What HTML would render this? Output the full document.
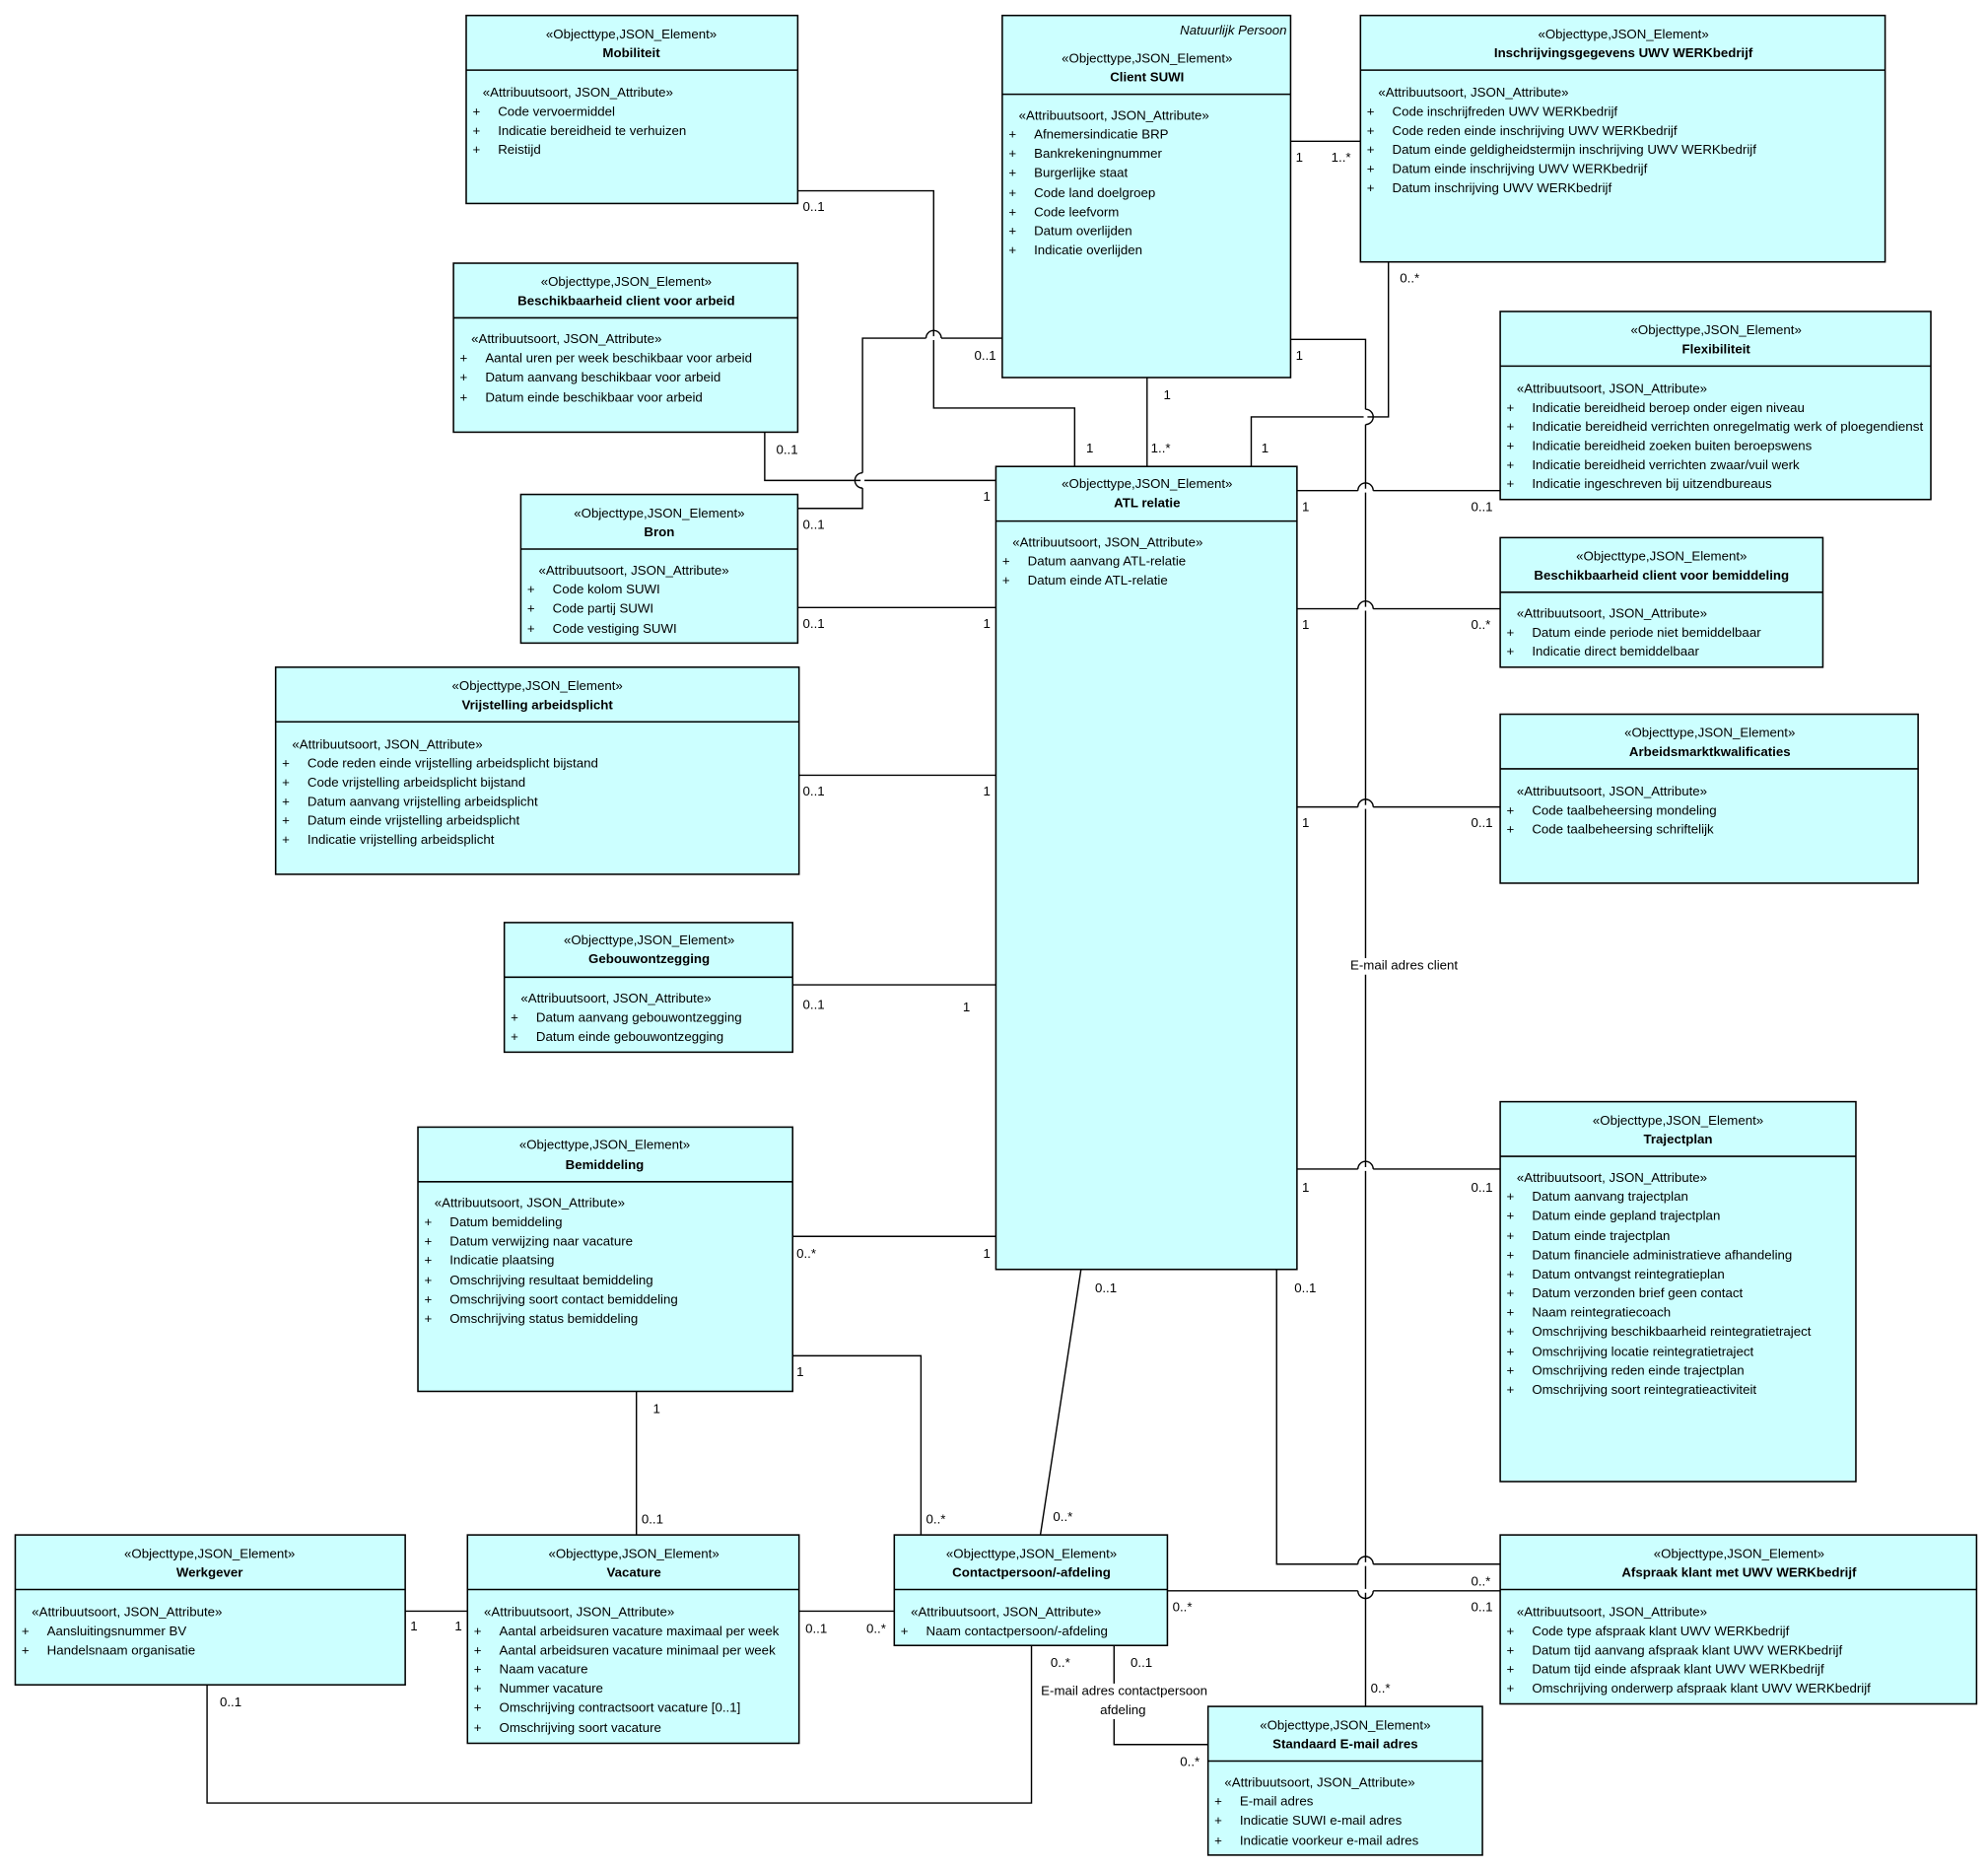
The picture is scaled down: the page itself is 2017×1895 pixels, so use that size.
<!DOCTYPE html>
<html><head><meta charset="utf-8"><style>
html,body{margin:0;padding:0;background:#fff}
svg{display:block}
text{font-family:"Liberation Sans",sans-serif;font-size:10.3px;fill:#000}
.b{font-weight:bold}
.c{text-anchor:middle}
rect{fill:#ccffff;stroke:#000;stroke-width:1.2}
.sep{stroke:#000;stroke-width:1.2}
.ln{fill:none;stroke:#000;stroke-width:1.1}
.jp{fill:none;stroke:#000;stroke-width:1.1}
.wh{stroke:#fff;stroke-width:3}
</style></head><body>
<svg width="2017" height="1895" viewBox="0 0 1565 1470" xmlns="http://www.w3.org/2000/svg">
<!-- connectors -->
<g class="ln">
<polyline points="628,150 735,150 735,321 846,321 846,367"/>
<line x1="903" y1="297" x2="903" y2="367"/>
<line x1="1016" y1="111" x2="1071" y2="111"/>
<polyline points="1093,206 1093,328 985,328 985,367"/>
<polyline points="602,340 602,378 784,378"/>
<polyline points="628,400 679,400 679,266 789,266"/>
<polyline points="1016,267 1075,267 1075,1343"/>
<line x1="628" y1="478" x2="784" y2="478"/>
<line x1="629" y1="610" x2="784" y2="610"/>
<line x1="624" y1="775" x2="784" y2="775"/>
<line x1="624" y1="973" x2="784" y2="973"/>
<line x1="1021" y1="386" x2="1181" y2="386"/>
<line x1="1021" y1="479" x2="1181" y2="479"/>
<line x1="1021" y1="635" x2="1181" y2="635"/>
<line x1="1021" y1="920" x2="1181" y2="920"/>
<polyline points="1005,999 1005,1231 1181,1231"/>
<line x1="851" y1="999" x2="819" y2="1208"/>
<line x1="501" y1="1095" x2="501" y2="1208"/>
<polyline points="624,1067 725,1067 725,1208"/>
<line x1="319" y1="1268" x2="368" y2="1268"/>
<line x1="629" y1="1268" x2="704" y2="1268"/>
<line x1="919" y1="1252" x2="1181" y2="1252"/>
<polyline points="163,1326 163,1419 812,1419 812,1295"/>
<polyline points="877,1295 877,1373 951,1373"/>
</g>
<!-- jumps -->
<g>
<line class="wh" x1="729" y1="266" x2="741" y2="266"/><path class="jp" d="M729,266 A6,6 0 0 1 741,266"/>
<line class="wh" x1="1075" y1="322" x2="1075" y2="334"/><path class="jp" d="M1075,322 A6,6 0 0 1 1075,334"/>
<line class="wh" x1="679" y1="372" x2="679" y2="384"/><path class="jp" d="M679,372 A6,6 0 0 0 679,384"/>
<line class="wh" x1="1069" y1="386" x2="1081" y2="386"/><path class="jp" d="M1069,386 A6,6 0 0 1 1081,386"/>
<line class="wh" x1="1069" y1="479" x2="1081" y2="479"/><path class="jp" d="M1069,479 A6,6 0 0 1 1081,479"/>
<line class="wh" x1="1069" y1="635" x2="1081" y2="635"/><path class="jp" d="M1069,635 A6,6 0 0 1 1081,635"/>
<line class="wh" x1="1069" y1="920" x2="1081" y2="920"/><path class="jp" d="M1069,920 A6,6 0 0 1 1081,920"/>
<line class="wh" x1="1069" y1="1231" x2="1081" y2="1231"/><path class="jp" d="M1069,1231 A6,6 0 0 1 1081,1231"/>
<line class="wh" x1="1069" y1="1252" x2="1081" y2="1252"/><path class="jp" d="M1069,1252 A6,6 0 0 0 1081,1252"/>
</g>
<!-- multiplicities -->
<g>
<text x="632" y="166">0..1</text><text x="855" y="356">1</text>
<text x="916" y="314">1</text><text x="906" y="356">1..*</text>
<text x="1020" y="127">1</text><text x="1048" y="127">1..*</text>
<text x="1102" y="222">0..*</text><text x="993" y="356">1</text>
<text x="611" y="357">0..1</text><text x="774" y="394">1</text>
<text x="632" y="416">0..1</text><text x="767" y="283">0..1</text>
<text x="1020" y="283">1</text><text x="1079" y="1332">0..*</text>
<rect x="1062" y="754" width="90" height="13" style="fill:#fff;stroke:none"/>
<text x="1063" y="763">E-mail adres client</text>
<text x="632" y="494">0..1</text><text x="774" y="494">1</text>
<text x="632" y="626">0..1</text><text x="774" y="626">1</text>
<text x="632" y="794">0..1</text><text x="758" y="796">1</text>
<text x="627" y="990">0..*</text><text x="774" y="990">1</text>
<text x="1025" y="402">1</text><text x="1158" y="402">0..1</text>
<text x="1025" y="495">1</text><text x="1158" y="495">0..*</text>
<text x="1025" y="651">1</text><text x="1158" y="651">0..1</text>
<text x="1025" y="938">1</text><text x="1158" y="938">0..1</text>
<text x="1019" y="1017">0..1</text><text x="1158" y="1248">0..*</text>
<text x="862" y="1017">0..1</text><text x="829" y="1197">0..*</text>
<text x="514" y="1112">1</text><text x="505" y="1199">0..1</text>
<text x="627" y="1083">1</text><text x="729" y="1199">0..*</text>
<text x="323" y="1283">1</text><text x="358" y="1283">1</text>
<text x="634" y="1285">0..1</text><text x="682" y="1285">0..*</text>
<text x="923" y="1268">0..*</text><text x="1158" y="1268">0..1</text>
<text x="173" y="1343">0..1</text><text x="827" y="1312">0..*</text>
<text x="890" y="1312">0..1</text><text x="929" y="1390">0..*</text>
<rect x="816" y="1325" width="140" height="28" style="fill:#fff;stroke:none"/>
<text class="c" x="885" y="1334">E-mail adres contactpersoon</text>
<text class="c" x="884" y="1349">afdeling</text>
</g>

<!-- Mobiliteit -->
<rect x="367" y="12" width="261" height="148"/><line class="sep" x1="367" y1="55" x2="628" y2="55"/>
<text class="c" x="497" y="30">«Objecttype,JSON_Element»</text><text class="c b" x="497" y="45">Mobiliteit</text>
<text x="380" y="76">«Attribuutsoort, JSON_Attribute»</text>
<text x="372" y="91">+</text><text x="392" y="91">Code vervoermiddel</text>
<text x="372" y="106">+</text><text x="392" y="106">Indicatie bereidheid te verhuizen</text>
<text x="372" y="121">+</text><text x="392" y="121">Reistijd</text>

<!-- Client SUWI -->
<rect x="789" y="12" width="227" height="285"/><line class="sep" x1="789" y1="74" x2="1016" y2="74"/>
<text x="1013" y="27" style="font-style:italic;text-anchor:end">Natuurlijk Persoon</text>
<text class="c" x="903" y="49">«Objecttype,JSON_Element»</text><text class="c b" x="903" y="64">Client SUWI</text>
<text x="802" y="94">«Attribuutsoort, JSON_Attribute»</text>
<text x="794" y="109">+</text><text x="814" y="109">Afnemersindicatie BRP</text>
<text x="794" y="124">+</text><text x="814" y="124">Bankrekeningnummer</text>
<text x="794" y="139">+</text><text x="814" y="139">Burgerlijke staat</text>
<text x="794" y="155">+</text><text x="814" y="155">Code land doelgroep</text>
<text x="794" y="170">+</text><text x="814" y="170">Code leefvorm</text>
<text x="794" y="185">+</text><text x="814" y="185">Datum overlijden</text>
<text x="794" y="200">+</text><text x="814" y="200">Indicatie overlijden</text>

<!-- Inschrijvingsgegevens -->
<rect x="1071" y="12" width="413" height="194"/><line class="sep" x1="1071" y1="55" x2="1484" y2="55"/>
<text class="c" x="1278" y="30">«Objecttype,JSON_Element»</text><text class="c b" x="1278" y="45">Inschrijvingsgegevens UWV WERKbedrijf</text>
<text x="1085" y="76">«Attribuutsoort, JSON_Attribute»</text>
<text x="1076" y="91">+</text><text x="1096" y="91">Code inschrijfreden UWV WERKbedrijf</text>
<text x="1076" y="106">+</text><text x="1096" y="106">Code reden einde inschrijving UWV WERKbedrijf</text>
<text x="1076" y="121">+</text><text x="1096" y="121">Datum einde geldigheidstermijn inschrijving UWV WERKbedrijf</text>
<text x="1076" y="136">+</text><text x="1096" y="136">Datum einde inschrijving UWV WERKbedrijf</text>
<text x="1076" y="151">+</text><text x="1096" y="151">Datum inschrijving UWV WERKbedrijf</text>

<!-- Beschikbaarheid arbeid -->
<rect x="357" y="207" width="271" height="133"/><line class="sep" x1="357" y1="250" x2="628" y2="250"/>
<text class="c" x="493" y="225">«Objecttype,JSON_Element»</text><text class="c b" x="493" y="240">Beschikbaarheid client voor arbeid</text>
<text x="371" y="270">«Attribuutsoort, JSON_Attribute»</text>
<text x="362" y="285">+</text><text x="382" y="285">Aantal uren per week beschikbaar voor arbeid</text>
<text x="362" y="300">+</text><text x="382" y="300">Datum aanvang beschikbaar voor arbeid</text>
<text x="362" y="316">+</text><text x="382" y="316">Datum einde beschikbaar voor arbeid</text>

<!-- Flexibiliteit -->
<rect x="1181" y="245" width="339" height="148"/><line class="sep" x1="1181" y1="288" x2="1520" y2="288"/>
<text class="c" x="1351" y="263">«Objecttype,JSON_Element»</text><text class="c b" x="1351" y="278">Flexibiliteit</text>
<text x="1194" y="309">«Attribuutsoort, JSON_Attribute»</text>
<text x="1186" y="324">+</text><text x="1206" y="324">Indicatie bereidheid beroep onder eigen niveau</text>
<text x="1186" y="339">+</text><text x="1206" y="339" textLength="308" lengthAdjust="spacingAndGlyphs">Indicatie bereidheid verrichten onregelmatig werk of ploegendienst</text>
<text x="1186" y="354">+</text><text x="1206" y="354">Indicatie bereidheid zoeken buiten beroepswens</text>
<text x="1186" y="369">+</text><text x="1206" y="369">Indicatie bereidheid verrichten zwaar/vuil werk</text>
<text x="1186" y="384">+</text><text x="1206" y="384">Indicatie ingeschreven bij uitzendbureaus</text>

<!-- Bron -->
<rect x="410" y="389" width="218" height="117"/><line class="sep" x1="410" y1="432" x2="628" y2="432"/>
<text class="c" x="519" y="407">«Objecttype,JSON_Element»</text><text class="c b" x="519" y="422">Bron</text>
<text x="424" y="452">«Attribuutsoort, JSON_Attribute»</text>
<text x="415" y="467">+</text><text x="435" y="467">Code kolom SUWI</text>
<text x="415" y="482">+</text><text x="435" y="482">Code partij SUWI</text>
<text x="415" y="498">+</text><text x="435" y="498">Code vestiging SUWI</text>

<!-- ATL relatie -->
<rect x="784" y="367" width="237" height="632"/><line class="sep" x1="784" y1="410" x2="1021" y2="410"/>
<text class="c" x="903" y="384">«Objecttype,JSON_Element»</text><text class="c b" x="903" y="399">ATL relatie</text>
<text x="797" y="430">«Attribuutsoort, JSON_Attribute»</text>
<text x="789" y="445">+</text><text x="809" y="445">Datum aanvang ATL-relatie</text>
<text x="789" y="460">+</text><text x="809" y="460">Datum einde ATL-relatie</text>

<!-- Beschikbaarheid bemiddeling -->
<rect x="1181" y="423" width="254" height="102"/><line class="sep" x1="1181" y1="466" x2="1435" y2="466"/>
<text class="c" x="1308" y="441">«Objecttype,JSON_Element»</text><text class="c b" x="1308" y="456">Beschikbaarheid client voor bemiddeling</text>
<text x="1194" y="486">«Attribuutsoort, JSON_Attribute»</text>
<text x="1186" y="501">+</text><text x="1206" y="501">Datum einde periode niet bemiddelbaar</text>
<text x="1186" y="516">+</text><text x="1206" y="516">Indicatie direct bemiddelbaar</text>

<!-- Vrijstelling -->
<rect x="217" y="525" width="412" height="163"/><line class="sep" x1="217" y1="568" x2="629" y2="568"/>
<text class="c" x="423" y="543">«Objecttype,JSON_Element»</text><text class="c b" x="423" y="558">Vrijstelling arbeidsplicht</text>
<text x="230" y="589">«Attribuutsoort, JSON_Attribute»</text>
<text x="222" y="604">+</text><text x="242" y="604">Code reden einde vrijstelling arbeidsplicht bijstand</text>
<text x="222" y="619">+</text><text x="242" y="619">Code vrijstelling arbeidsplicht bijstand</text>
<text x="222" y="634">+</text><text x="242" y="634">Datum aanvang vrijstelling arbeidsplicht</text>
<text x="222" y="649">+</text><text x="242" y="649">Datum einde vrijstelling arbeidsplicht</text>
<text x="222" y="664">+</text><text x="242" y="664">Indicatie vrijstelling arbeidsplicht</text>

<!-- Arbeidsmarktkwalificaties -->
<rect x="1181" y="562" width="329" height="133"/><line class="sep" x1="1181" y1="605" x2="1510" y2="605"/>
<text class="c" x="1346" y="580">«Objecttype,JSON_Element»</text><text class="c b" x="1346" y="595">Arbeidsmarktkwalificaties</text>
<text x="1194" y="626">«Attribuutsoort, JSON_Attribute»</text>
<text x="1186" y="641">+</text><text x="1206" y="641">Code taalbeheersing mondeling</text>
<text x="1186" y="656">+</text><text x="1206" y="656">Code taalbeheersing schriftelijk</text>

<!-- Gebouwontzegging -->
<rect x="397" y="726" width="227" height="102"/><line class="sep" x1="397" y1="769" x2="624" y2="769"/>
<text class="c" x="511" y="743">«Objecttype,JSON_Element»</text><text class="c b" x="511" y="758">Gebouwontzegging</text>
<text x="410" y="789">«Attribuutsoort, JSON_Attribute»</text>
<text x="402" y="804">+</text><text x="422" y="804">Datum aanvang gebouwontzegging</text>
<text x="402" y="819">+</text><text x="422" y="819">Datum einde gebouwontzegging</text>

<!-- Bemiddeling -->
<rect x="329" y="887" width="295" height="208"/><line class="sep" x1="329" y1="930" x2="624" y2="930"/>
<text class="c" x="476" y="904">«Objecttype,JSON_Element»</text><text class="c b" x="476" y="920">Bemiddeling</text>
<text x="342" y="950">«Attribuutsoort, JSON_Attribute»</text>
<text x="334" y="965">+</text><text x="354" y="965">Datum bemiddeling</text>
<text x="334" y="980">+</text><text x="354" y="980">Datum verwijzing naar vacature</text>
<text x="334" y="995">+</text><text x="354" y="995">Indicatie plaatsing</text>
<text x="334" y="1011">+</text><text x="354" y="1011">Omschrijving resultaat bemiddeling</text>
<text x="334" y="1026">+</text><text x="354" y="1026">Omschrijving soort contact bemiddeling</text>
<text x="334" y="1041">+</text><text x="354" y="1041">Omschrijving status bemiddeling</text>

<!-- Trajectplan -->
<rect x="1181" y="867" width="280" height="299"/><line class="sep" x1="1181" y1="910" x2="1461" y2="910"/>
<text class="c" x="1321" y="885">«Objecttype,JSON_Element»</text><text class="c b" x="1321" y="900">Trajectplan</text>
<text x="1194" y="930">«Attribuutsoort, JSON_Attribute»</text>
<text x="1186" y="945">+</text><text x="1206" y="945">Datum aanvang trajectplan</text>
<text x="1186" y="960">+</text><text x="1206" y="960">Datum einde gepland trajectplan</text>
<text x="1186" y="976">+</text><text x="1206" y="976">Datum einde trajectplan</text>
<text x="1186" y="991">+</text><text x="1206" y="991">Datum financiele administratieve afhandeling</text>
<text x="1186" y="1006">+</text><text x="1206" y="1006">Datum ontvangst reintegratieplan</text>
<text x="1186" y="1021">+</text><text x="1206" y="1021">Datum verzonden brief geen contact</text>
<text x="1186" y="1036">+</text><text x="1206" y="1036">Naam reintegratiecoach</text>
<text x="1186" y="1051">+</text><text x="1206" y="1051">Omschrijving beschikbaarheid reintegratietraject</text>
<text x="1186" y="1067">+</text><text x="1206" y="1067">Omschrijving locatie reintegratietraject</text>
<text x="1186" y="1082">+</text><text x="1206" y="1082">Omschrijving reden einde trajectplan</text>
<text x="1186" y="1097">+</text><text x="1206" y="1097">Omschrijving soort reintegratieactiviteit</text>

<!-- Werkgever -->
<rect x="12" y="1208" width="307" height="118"/><line class="sep" x1="12" y1="1251" x2="319" y2="1251"/>
<text class="c" x="165" y="1226">«Objecttype,JSON_Element»</text><text class="c b" x="165" y="1241">Werkgever</text>
<text x="25" y="1272">«Attribuutsoort, JSON_Attribute»</text>
<text x="17" y="1287">+</text><text x="37" y="1287">Aansluitingsnummer BV</text>
<text x="17" y="1302">+</text><text x="37" y="1302">Handelsnaam organisatie</text>

<!-- Vacature -->
<rect x="368" y="1208" width="261" height="164"/><line class="sep" x1="368" y1="1251" x2="629" y2="1251"/>
<text class="c" x="499" y="1226">«Objecttype,JSON_Element»</text><text class="c b" x="499" y="1241">Vacature</text>
<text x="381" y="1272">«Attribuutsoort, JSON_Attribute»</text>
<text x="373" y="1287">+</text><text x="393" y="1287">Aantal arbeidsuren vacature maximaal per week</text>
<text x="373" y="1302">+</text><text x="393" y="1302">Aantal arbeidsuren vacature minimaal per week</text>
<text x="373" y="1317">+</text><text x="393" y="1317">Naam vacature</text>
<text x="373" y="1332">+</text><text x="393" y="1332">Nummer vacature</text>
<text x="373" y="1347">+</text><text x="393" y="1347">Omschrijving contractsoort vacature [0..1]</text>
<text x="373" y="1363">+</text><text x="393" y="1363">Omschrijving soort vacature</text>

<!-- Contactpersoon -->
<rect x="704" y="1208" width="215" height="87"/><line class="sep" x1="704" y1="1251" x2="919" y2="1251"/>
<text class="c" x="812" y="1226">«Objecttype,JSON_Element»</text><text class="c b" x="812" y="1241">Contactpersoon/-afdeling</text>
<text x="717" y="1272">«Attribuutsoort, JSON_Attribute»</text>
<text x="709" y="1287">+</text><text x="729" y="1287">Naam contactpersoon/-afdeling</text>

<!-- Afspraak -->
<rect x="1181" y="1208" width="375" height="133"/><line class="sep" x1="1181" y1="1251" x2="1556" y2="1251"/>
<text class="c" x="1369" y="1226">«Objecttype,JSON_Element»</text><text class="c b" x="1369" y="1241">Afspraak klant met UWV WERKbedrijf</text>
<text x="1194" y="1272">«Attribuutsoort, JSON_Attribute»</text>
<text x="1186" y="1287">+</text><text x="1206" y="1287">Code type afspraak klant UWV WERKbedrijf</text>
<text x="1186" y="1302">+</text><text x="1206" y="1302">Datum tijd aanvang afspraak klant UWV WERKbedrijf</text>
<text x="1186" y="1317">+</text><text x="1206" y="1317">Datum tijd einde afspraak klant UWV WERKbedrijf</text>
<text x="1186" y="1332">+</text><text x="1206" y="1332">Omschrijving onderwerp afspraak klant UWV WERKbedrijf</text>

<!-- Standaard E-mail -->
<rect x="951" y="1343" width="216" height="117"/><line class="sep" x1="951" y1="1386" x2="1167" y2="1386"/>
<text class="c" x="1059" y="1361">«Objecttype,JSON_Element»</text><text class="c b" x="1059" y="1376">Standaard E-mail adres</text>
<text x="964" y="1406">«Attribuutsoort, JSON_Attribute»</text>
<text x="956" y="1421">+</text><text x="976" y="1421">E-mail adres</text>
<text x="956" y="1436">+</text><text x="976" y="1436">Indicatie SUWI e-mail adres</text>
<text x="956" y="1452">+</text><text x="976" y="1452">Indicatie voorkeur e-mail adres</text>
</svg>
</body></html>
